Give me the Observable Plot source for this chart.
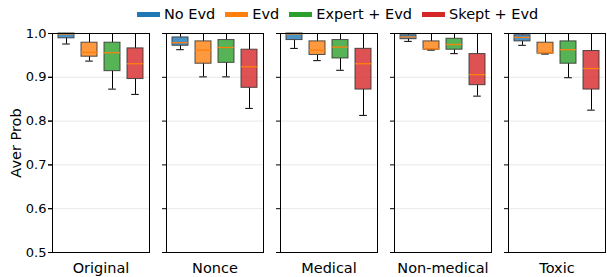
<!DOCTYPE html>
<html><head><meta charset="utf-8">
<script src="https://cdn.jsdelivr.net/npm/d3@7"></script>
<script src="https://cdn.jsdelivr.net/npm/@observablehq/plot@0.6"></script>
<style>
body{margin:0;background:#fff;font-family:"DejaVu Sans",sans-serif;}
#legend{display:flex;align-items:center;height:26px;padding-left:137px;font-size:14.5px;color:#000;box-sizing:border-box;padding-top:2px;}
.item{display:flex;align-items:center;margin-right:10px;}
.sw{width:23px;height:5px;margin-right:4px;}
</style></head><body>
<div id="legend"></div><div id="chart"></div>
<script>
const categories = ["Original", "Nonce", "Medical", "Non-medical", "Toxic"];
const methods = ["No Evd", "Evd", "Expert + Evd", "Skept + Evd"];
const colors = ["#1f77b4", "#ff7f0e", "#2ca02c", "#d62728"];
// rows: method, columns: category
const whiskerLow = [
  [0.976, 0.963, 0.966, 0.982, 0.973],
  [0.937, 0.901, 0.938, 0.962, 0.953],
  [0.873, 0.901, 0.916, 0.954, 0.899],
  [0.861, 0.829, 0.813, 0.857, 0.825]
];
const q1 = [
  [0.989, 0.972, 0.985, 0.987, 0.982],
  [0.947, 0.931, 0.951, 0.963, 0.954],
  [0.914, 0.933, 0.943, 0.963, 0.931],
  [0.896, 0.876, 0.872, 0.882, 0.872]
];
const median = [
  [0.999, 0.979, 0.999, 0.992, 0.991],
  [0.957, 0.962, 0.962, 0.965, 0.956],
  [0.956, 0.968, 0.969, 0.975, 0.963],
  [0.931, 0.924, 0.931, 0.906, 0.920]
];
const q3 = [
  [1.000, 0.991, 1.000, 0.996, 0.996],
  [0.979, 0.982, 0.982, 0.982, 0.979],
  [0.979, 0.985, 0.985, 0.988, 0.982],
  [0.966, 0.963, 0.965, 0.953, 0.960]
];
const whiskerHigh = [
  [1.0, 1.0, 1.0, 1.0, 1.0],
  [1.0, 1.0, 1.0, 1.0, 1.0],
  [1.0, 1.0, 1.0, 1.0, 1.0],
  [1.0, 1.0, 1.0, 1.0, 1.0]
];
const yTicks = [0.5, 0.6, 0.7, 0.8, 0.9, 1.0];
const yLabel = "Aver Prob";

const rows = methods.flatMap((m, i) => categories.map((c, j) => ({
  method: m, category: c,
  lo: whiskerLow[i][j], q1: q1[i][j], med: median[i][j], q3: q3[i][j], hi: whiskerHigh[i][j]
})));

const legend = document.getElementById("legend");
methods.forEach((m, i) => {
  const it = document.createElement("div"); it.className = "item";
  const sw = document.createElement("div"); sw.className = "sw"; sw.style.background = colors[i];
  const tx = document.createElement("span"); tx.textContent = m;
  it.append(sw, tx); legend.append(it);
});

const chart = Plot.plot({
  width: 607, height: 251,
  marginTop: 7, marginBottom: 25, marginLeft: 51, marginRight: 1,
  style: {fontFamily: "DejaVu Sans, sans-serif", fontSize: "13px", color: "#000", background: "#fff"},
  fx: {domain: categories, paddingInner: 0.15, paddingOuter: 0},
  x: {domain: methods, paddingInner: 0.3, paddingOuter: 0.2, axis: null},
  y: {domain: [0.5, 1.0]},
  color: {domain: methods, range: colors},
  marks: [
    Plot.gridY(yTicks, {stroke: "#000", strokeOpacity: 0.09}),
    Plot.ruleX(rows, {fx: "category", x: "method", y1: "q3", y2: "hi", stroke: "#000", strokeWidth: 1}),
    Plot.ruleX(rows, {fx: "category", x: "method", y1: "lo", y2: "q1", stroke: "#000", strokeWidth: 1}),
    Plot.tickY(rows, {fx: "category", x: "method", y: "hi", stroke: "#000", insetLeft: 4.2, insetRight: 4.2}),
    Plot.tickY(rows, {fx: "category", x: "method", y: "lo", stroke: "#000", insetLeft: 4.2, insetRight: 4.2}),
    Plot.barY(rows, {fx: "category", x: "method", y1: "q1", y2: "q3", fill: "method", fillOpacity: 0.8, stroke: "#333", strokeOpacity: 0.85}),
    Plot.tickY(rows, {fx: "category", x: "method", y: "med", stroke: "#ff7f0e", strokeWidth: 1.3}),
    Plot.frame({stroke: "#000"}),
    Plot.axisY(yTicks, {anchor: "left", tickSize: 4, tickPadding: 2, tickFormat: d3.format(".1f"), label: null, fontSize: 13}),
    Plot.axisY(yTicks, {anchor: "left", facetAnchor: null, tickSize: 4, tickFormat: () => "", label: null}),
    Plot.text([yLabel], {text: d => d, frameAnchor: "left", facetAnchor: "left", rotate: -90, dx: -36, fontSize: 14.5, textAnchor: "middle", fill: "#000"}),
    Plot.axisFx({anchor: "bottom", tickSize: 0, tickPadding: 10, label: null, fontSize: 14.5})
  ]
});
document.getElementById("chart").append(chart);
</script>
</body></html>
